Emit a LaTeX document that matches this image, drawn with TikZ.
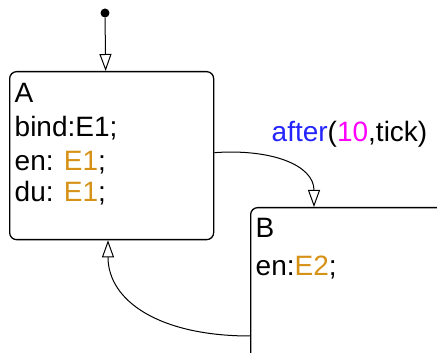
\documentclass[tikz,border=0pt]{standalone}
\usepackage{fontspec}
\setmainfont{Liberation Sans}
\usetikzlibrary{arrows.meta}
\definecolor{evcol}{RGB}{214,146,22}
\definecolor{kwcol}{RGB}{36,36,255}
\definecolor{numcol}{RGB}{255,0,255}
\begin{document}
\begin{tikzpicture}[x=1pt,y=1pt,>={Triangle[open,length=17pt,width=12pt]},
    state/.style={draw,line width=1.3pt,rounded corners=7pt,anchor=north west,inner sep=0pt},
    stext/.style={anchor=base west,inner sep=0pt,font=\fontsize{28}{33}\selectfont},
    trans/.style={line width=1pt}]
  \useasboundingbox (0,0) rectangle (437,353);
  \clip (0,0) rectangle (437,353);
  \node[state,minimum width=204pt,minimum height=168pt] (A) at (9,282) {};
  \node[state,minimum width=200pt,minimum height=160pt] (B) at (250,146) {};
  \foreach \y/\txt [count=\i] in {250/A, 216/{bind:E1;}, 182/{en: \textcolor{evcol}{E1};}, 151/{du: \textcolor{evcol}{E1};}} {
    \node[stext] (la\i) at (14.5,\y) {\txt};
  }
  \foreach \y/\txt [count=\i] in {115/B, 77/{en:\textcolor{evcol}{E2};}} {
    \node[stext] (lb\i) at (255.5,\y) {\txt};
  }
  \node[circle,fill,inner sep=0pt,minimum size=9pt] (init) at (105,340) {};
  \draw[trans,->] (init) -- ([xshift=-6pt]A.north);
  \draw[trans,->] ([yshift=3pt]A.east) .. controls +(57,4) and +(0,42) .. ([xshift=64pt]B.north west);
  \node[stext] (tlbl) at (271.5,211) {\textcolor{kwcol}{after}(\textcolor{numcol}{10},tick)};
  \draw[trans,->] ([yshift=-129pt]B.north west) .. controls +(-90,0) and +(0,-61) .. ([xshift=99pt]A.south west);
\end{tikzpicture}
\end{document}
